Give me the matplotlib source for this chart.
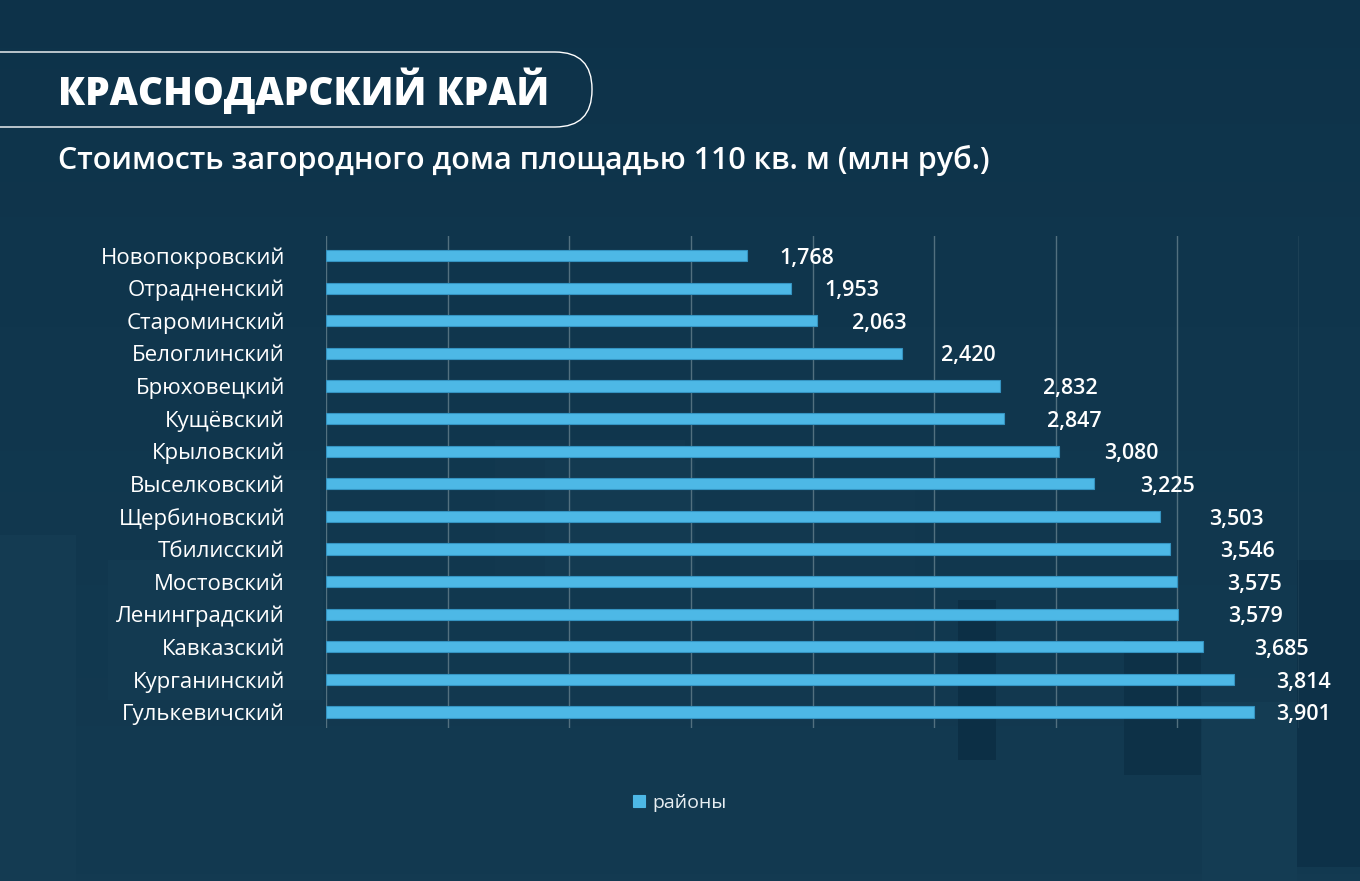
import numpy as np
import matplotlib
matplotlib.use("Agg")
import matplotlib.pyplot as plt
from matplotlib.patches import FancyBboxPatch, Rectangle

plt.rcParams["font.family"] = ["Open Sans", "DejaVu Sans"]

###############################################################################

districts = ["Новопокровский", "Отрадненский", "Староминский", "Белоглинский",
             "Брюховецкий", "Кущёвский", "Крыловский", "Выселковский",
             "Щербиновский", "Тбилисский", "Мостовский", "Ленинградский",
             "Кавказский", "Курганинский", "Гулькевичский"]
prices = [1.768, 1.953, 2.063, 2.420, 2.832, 2.847, 3.080, 3.225,
          3.503, 3.546, 3.575, 3.579, 3.685, 3.814, 3.901]
series_name = "районы"
title = "КРАСНОДАРСКИЙ КРАЙ"
subtitle = "Стоимость загородного дома площадью 110 кв. м (млн руб.)"

BG_TOP = "#0d3249"
BG_BOTTOM = "#133a51"
BAR = "#4db8e6"
BAR_EDGE = "#3594c2"
WHITE = "#ffffff"

W, H = 1360, 881
XMAX = 4.088

###############################################################################

fig = plt.figure(figsize=(W / 100, H / 100), dpi=100)

# background gradient + faint decorative blocks
bg = fig.add_axes([0, 0, 1, 1])
bg.set_xlim(0, W)
bg.set_ylim(H, 0)
bg.axis("off")
grad = np.linspace(0, 1, 256)[:, None] ** 0.7
cmap = matplotlib.colors.LinearSegmentedColormap.from_list("bg", [BG_TOP, BG_BOTTOM])
bg.imshow(grad, extent=[0, W, H, 0], aspect="auto", cmap=cmap, zorder=0)
blocks = [
    (0, 535, 76, 346, "#143b52"),
    (108, 560, 215, 140, "#133a51"),
    (170, 470, 150, 100, "#123950"),
    (320, 330, 160, 130, "#10364d"),
    (495, 440, 190, 135, "#12384f"),
    (545, 460, 150, 120, "#133a51"),
    (740, 490, 175, 150, "#12384f"),
    (958, 600, 38, 160, "#0c2f45"),
    (1124, 640, 77, 135, "#0d3147"),
    (1202, 702, 95, 180, "#143c53"),
    (1297, 560, 63, 307, "#0d3148"),
]
for x, y, w, h, c in blocks:
    bg.add_patch(Rectangle((x, y), w, h, color=c, lw=0, zorder=1))

# title box
bg.add_patch(FancyBboxPatch((-80, 52), 80 + 592, 75,
                            boxstyle="round,pad=0,rounding_size=37",
                            fill=False, ec=WHITE, lw=1.0, zorder=3))
bg.text(58, 91, title, color=WHITE, fontsize=28, fontweight="heavy",
        va="center", ha="left", zorder=4)
bg.text(58, 160, subtitle, color=WHITE, fontsize=22, fontweight="semibold",
        va="center", ha="left", zorder=4)

###############################################################################

ax = fig.add_axes([326 / W, 1 - 728 / H, (1299 - 326) / W, (728 - 236) / H])
ax.set_facecolor("none")
y = np.arange(len(districts))
ax.barh(y, prices, height=0.34, color=BAR, edgecolor=BAR_EDGE, lw=0.8,
        label=series_name, zorder=3)
for yi, v in zip(y, prices):
    xc = min(v * 1.042 + 0.176, 4.109)
    ax.text(xc, yi + 0.08, f"{v:,.3f}".replace(".", ","), color=WHITE,
            fontsize=15.5, fontweight="semibold", va="center", ha="center",
            clip_on=False)

ax.set_xlim(0, XMAX)
ax.set_ylim(len(districts) - 1 + 0.49, -0.6)
ax.set_xticks(np.linspace(0, XMAX, 9))
ax.set_xticklabels([])
ax.grid(axis="x", color="#52707f", lw=1.0)
ax.tick_params(axis="x", length=0)
ax.tick_params(axis="y", length=0, pad=29.5, labelsize=16, labelcolor=WHITE)
ax.set_yticks(y)
ax.set_yticklabels(districts)
for s in ax.spines.values():
    s.set_visible(False)

leg = fig.legend(loc="center", bbox_to_anchor=(680 / W, 1 - 803 / H),
                 frameon=False, handlelength=0.6, handleheight=0.6,
                 handletextpad=0.4, fontsize=14, labelcolor="#e8eef2")
for hnd in leg.legend_handles:
    hnd.set_edgecolor(BAR)

fig.savefig("out.png", dpi=100, facecolor=BG_TOP)
